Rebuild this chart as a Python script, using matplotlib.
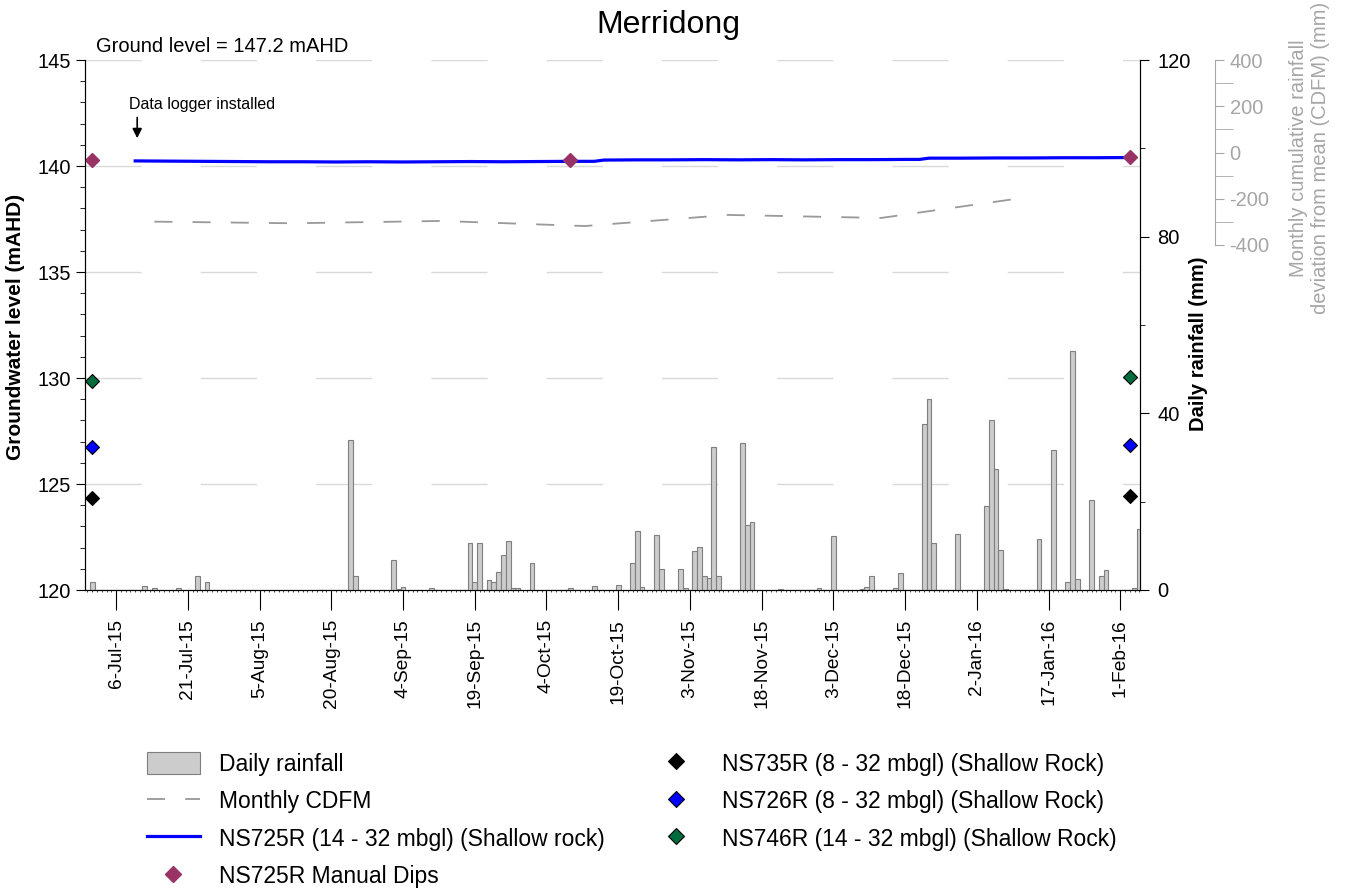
import datetime as dt
import matplotlib.pyplot as plt
import matplotlib.dates as mdates
from matplotlib.ticker import MultipleLocator, FixedLocator

plt.rcParams['font.family'] = ['Liberation Sans', 'DejaVu Sans']
plt.rcParams['lines.scale_dashes'] = False
plt.rcParams['axes.unicode_minus'] = False

# daily rainfall (mm)
rain_dates = ['2015-07-01', '2015-07-03', '2015-07-09', '2015-07-11', '2015-07-12', '2015-07-14',
              '2015-07-19', '2015-07-20', '2015-07-21', '2015-07-23', '2015-07-25', '2015-08-18',
              '2015-08-24', '2015-08-25', '2015-09-02', '2015-09-03', '2015-09-04', '2015-09-07',
              '2015-09-10', '2015-09-11', '2015-09-18', '2015-09-19', '2015-09-20', '2015-09-21',
              '2015-09-22', '2015-09-23', '2015-09-24', '2015-09-25', '2015-09-26', '2015-09-27',
              '2015-09-28', '2015-10-01', '2015-10-08', '2015-10-09', '2015-10-14', '2015-10-19',
              '2015-10-22', '2015-10-23', '2015-10-24', '2015-10-27', '2015-10-28', '2015-11-01',
              '2015-11-02', '2015-11-04', '2015-11-05', '2015-11-06', '2015-11-07', '2015-11-08',
              '2015-11-09', '2015-11-14', '2015-11-15', '2015-11-16', '2015-11-22', '2015-11-28',
              '2015-11-30', '2015-12-03', '2015-12-09', '2015-12-10', '2015-12-11', '2015-12-16',
              '2015-12-17', '2015-12-22', '2015-12-23', '2015-12-24', '2015-12-29', '2016-01-04',
              '2016-01-05', '2016-01-06', '2016-01-07', '2016-01-08', '2016-01-15', '2016-01-18',
              '2016-01-21', '2016-01-22', '2016-01-23', '2016-01-26', '2016-01-28', '2016-01-29',
              '2016-02-04', '2016-02-05']
rain_mm = [1.7, 0.1, 0.1, 0.1, 1.0, 0.5,
           0.4, 0.1, 0.1, 3.2, 1.7, 0.1,
           34.0, 3.1, 6.9, 0.3, 0.6, 0.1,
           0.5, 0.1, 10.6, 1.7, 10.6, 0.1,
           2.3, 1.7, 4.1, 7.9, 11.1, 0.5,
           0.5, 6.1, 0.1, 0.5, 0.9, 1.1,
           6.1, 13.3, 0.6, 12.5, 4.8, 4.8,
           0.4, 8.8, 9.7, 3.2, 2.7, 32.3,
           3.2, 33.2, 14.7, 15.3, 0.3, 0.1,
           0.5, 12.3, 0.3, 0.7, 3.2, 0.5,
           3.8, 37.5, 43.2, 10.6, 12.6, 19.0,
           38.4, 27.4, 9.0, 0.3, 11.6, 31.8,
           1.9, 54.0, 2.4, 20.4, 3.2, 4.6,
           0.5, 13.7]

# monthly cumulative deviation from mean (mm)
cdfm_dates = ['2015-07-14', '2015-08-12', '2015-09-12', '2015-10-12', '2015-11-11',
              '2015-12-13', '2016-01-10']
cdfm_mm = [-299, -306, -296, -318, -270, -283, -201]

# NS725R logger record (mAHD)
logger_dates = ['2015-07-10', '2015-07-17', '2015-07-24', '2015-07-31', '2015-08-07', '2015-08-14',
                '2015-08-21', '2015-08-28', '2015-09-04', '2015-09-11', '2015-09-18', '2015-09-25',
                '2015-10-02', '2015-10-09', '2015-10-14', '2015-10-16', '2015-10-23', '2015-10-30',
                '2015-11-06', '2015-11-13', '2015-11-20', '2015-11-27', '2015-12-04', '2015-12-11',
                '2015-12-18', '2015-12-21', '2015-12-23', '2015-12-30', '2016-01-06', '2016-01-13',
                '2016-01-20', '2016-01-27', '2016-02-03']
logger_level = [140.24, 140.23, 140.22, 140.21, 140.20, 140.20,
                140.19, 140.20, 140.19, 140.20, 140.21, 140.20,
                140.21, 140.22, 140.22, 140.28, 140.29, 140.29,
                140.30, 140.29, 140.30, 140.29, 140.30, 140.30,
                140.31, 140.31, 140.37, 140.37, 140.38, 140.38,
                140.39, 140.39, 140.40]

# manual dips
dip_dates = ['2015-07-01', '2015-10-09', '2016-02-03']
dip_level = [140.28, 140.28, 140.42]
ns735_dates = ['2015-07-01', '2016-02-03']
ns735_level = [124.35, 124.43]
ns726_dates = ['2015-07-01', '2016-02-03']
ns726_level = [126.75, 126.84]
ns746_dates = ['2015-07-01', '2016-02-03']
ns746_level = [129.86, 130.06]

tick_labels = ['6-Jul-15', '21-Jul-15', '5-Aug-15', '20-Aug-15', '4-Sep-15', '19-Sep-15',
               '4-Oct-15', '19-Oct-15', '3-Nov-15', '18-Nov-15', '3-Dec-15', '18-Dec-15',
               '2-Jan-16', '17-Jan-16', '1-Feb-16']


def to_dt(values):
    return [dt.datetime.strptime(v, '%Y-%m-%d') for v in values]


W, H = 1346, 890
fig = plt.figure(figsize=(W / 100, H / 100), dpi=100)
ax = fig.add_axes([85 / W, 1 - 590 / H, 1055 / W, 530 / H])
ax2 = ax.twinx()
ax3 = ax.twinx()

# groundwater (left axis)
ax.yaxis.grid(True, which='major', color='#d9d9d9', linewidth=1.0,
              linestyle=(0, (40.5, 42.5)))
ax.set_axisbelow(True)
line_725, = ax.plot(to_dt(logger_dates), logger_level, color='#0000ff', lw=2.3,
                    label='NS725R (14 - 32 mbgl) (Shallow rock)')
dips, = ax.plot(to_dt(dip_dates), dip_level, 'D', color='#993366', ms=7.6,
                mec='#993366', label='NS725R Manual Dips')
m735, = ax.plot(to_dt(ns735_dates), ns735_level, 'D', color='black', ms=7.6,
                mec='black', mew=0.8, label='NS735R (8 - 32 mbgl) (Shallow Rock)')
m726, = ax.plot(to_dt(ns726_dates), ns726_level, 'D', color='#0000ff', ms=7.6,
                mec='black', mew=0.8, label='NS726R (8 - 32 mbgl) (Shallow Rock)')
m746, = ax.plot(to_dt(ns746_dates), ns746_level, 'D', color='#006b3c', ms=7.6,
                mec='black', mew=0.8, label='NS746R (14 - 32 mbgl) (Shallow Rock)')

ax.set_xlim(dt.datetime(2015, 6, 29, 12), dt.datetime(2016, 2, 5, 3))
ax.set_ylim(120, 145)
ax.yaxis.set_major_locator(MultipleLocator(5))
ax.yaxis.set_minor_locator(MultipleLocator(1))
ax.tick_params(axis='y', which='major', length=6.5, labelsize=14.5, pad=3.5)
ax.tick_params(axis='y', which='minor', length=3.5)
ax.set_ylabel('Groundwater level (mAHD)', fontsize=15, fontweight='bold')
ax.yaxis.set_label_coords(-0.0569, 0.496)

tick_dates = [dt.datetime.strptime(t, '%d-%b-%y') for t in tick_labels]
ax.xaxis.set_major_locator(FixedLocator(mdates.date2num(tick_dates)))
ax.set_xticklabels(tick_labels, rotation=90, fontsize=13.8)
ax.xaxis.set_minor_locator(mdates.DayLocator())
ax.tick_params(axis='x', which='major', length=14.4, pad=6.5)
ax.tick_params(axis='x', which='minor', length=1.5, width=0.5)
ax.spines['top'].set_visible(False)

ax.annotate('', xy=(dt.datetime(2015, 7, 10, 10), 141.18),
            xytext=(dt.datetime(2015, 7, 10, 10), 142.42),
            arrowprops=dict(arrowstyle='-|>', color='black', lw=1.2, mutation_scale=14))

# daily rainfall (right axis)
bars = ax2.bar(to_dt(rain_dates), rain_mm, width=1.0, color='#cccccc',
               edgecolor='#7f7f7f', linewidth=0.8, label='Daily rainfall')
ax2.set_ylim(0, 120)
ax2.yaxis.set_major_locator(MultipleLocator(40))
ax2.yaxis.set_minor_locator(MultipleLocator(20))
ax2.tick_params(axis='y', which='major', length=6.5, labelsize=14.5, pad=6)
ax2.tick_params(axis='y', which='minor', length=3.5)
ax2.set_ylabel('Daily rainfall (mm)', fontsize=14.5, fontweight='bold')
ax2.yaxis.set_label_coords(1.0464, 0.464)
ax2.spines['top'].set_visible(False)

# monthly CDFM (offset axis, upper part only)
grey = '#a6a6a6'
cdfm_line, = ax3.plot(to_dt(cdfm_dates), cdfm_mm, color='#999999', lw=1.3,
                      linestyle=(0, (13, 14.5)), label='Monthly CDFM')
ax3.set_ylim(400 - 530 * 800 / 185, 400)
for side in ('left', 'top', 'bottom'):
    ax3.spines[side].set_visible(False)
ax3.spines['right'].set_position(('axes', 1130 / 1055))
ax3.spines['right'].set_bounds(-400, 400)
ax3.spines['right'].set_color(grey)
ax3.yaxis.set_major_locator(FixedLocator([-400, -200, 0, 200, 400]))
ax3.yaxis.set_minor_locator(FixedLocator([-300, -100, 100, 300]))
ax3.tick_params(axis='y', which='major', length=6.5, colors=grey, labelsize=14.5, pad=4)
ax3.tick_params(axis='y', which='minor', length=13, colors=grey)

fig.text(1310 / W, 1 - 158 / H, 'Monthly cumulative rainfall\ndeviation from mean (CDFM) (mm)',
         rotation=90, ha='center', va='center', color=grey, fontsize=14.5, linespacing=1.2,
         multialignment='center')

fig.text(668 / W, 1 - 25 / H, 'Merridong', ha='center', va='center', fontsize=23)
fig.text(96 / W, 1 - 46 / H, 'Ground level = 147.2 mAHD', ha='left', va='center', fontsize=14.5)
fig.text(129 / W, 1 - 104 / H, 'Data logger installed', ha='left', va='center', fontsize=11.5)

leg_kw = dict(loc='upper left', frameon=False, fontsize=16.5, handlelength=2.3,
              handleheight=1.1, handletextpad=0.85, labelspacing=0.6,
              borderpad=0, borderaxespad=0, markerscale=1.1)
fig.legend([bars, cdfm_line, line_725, dips],
           ['Daily rainfall', 'Monthly CDFM', 'NS725R (14 - 32 mbgl) (Shallow rock)',
            'NS725R Manual Dips'],
           bbox_to_anchor=(147 / W, 1 - 752 / H), **leg_kw)
fig.legend([m735, m726, m746],
           ['NS735R (8 - 32 mbgl) (Shallow Rock)', 'NS726R (8 - 32 mbgl) (Shallow Rock)',
            'NS746R (14 - 32 mbgl) (Shallow Rock)'],
           bbox_to_anchor=(650 / W, 1 - 752 / H), **leg_kw)

fig.savefig('out.png', dpi=100)
